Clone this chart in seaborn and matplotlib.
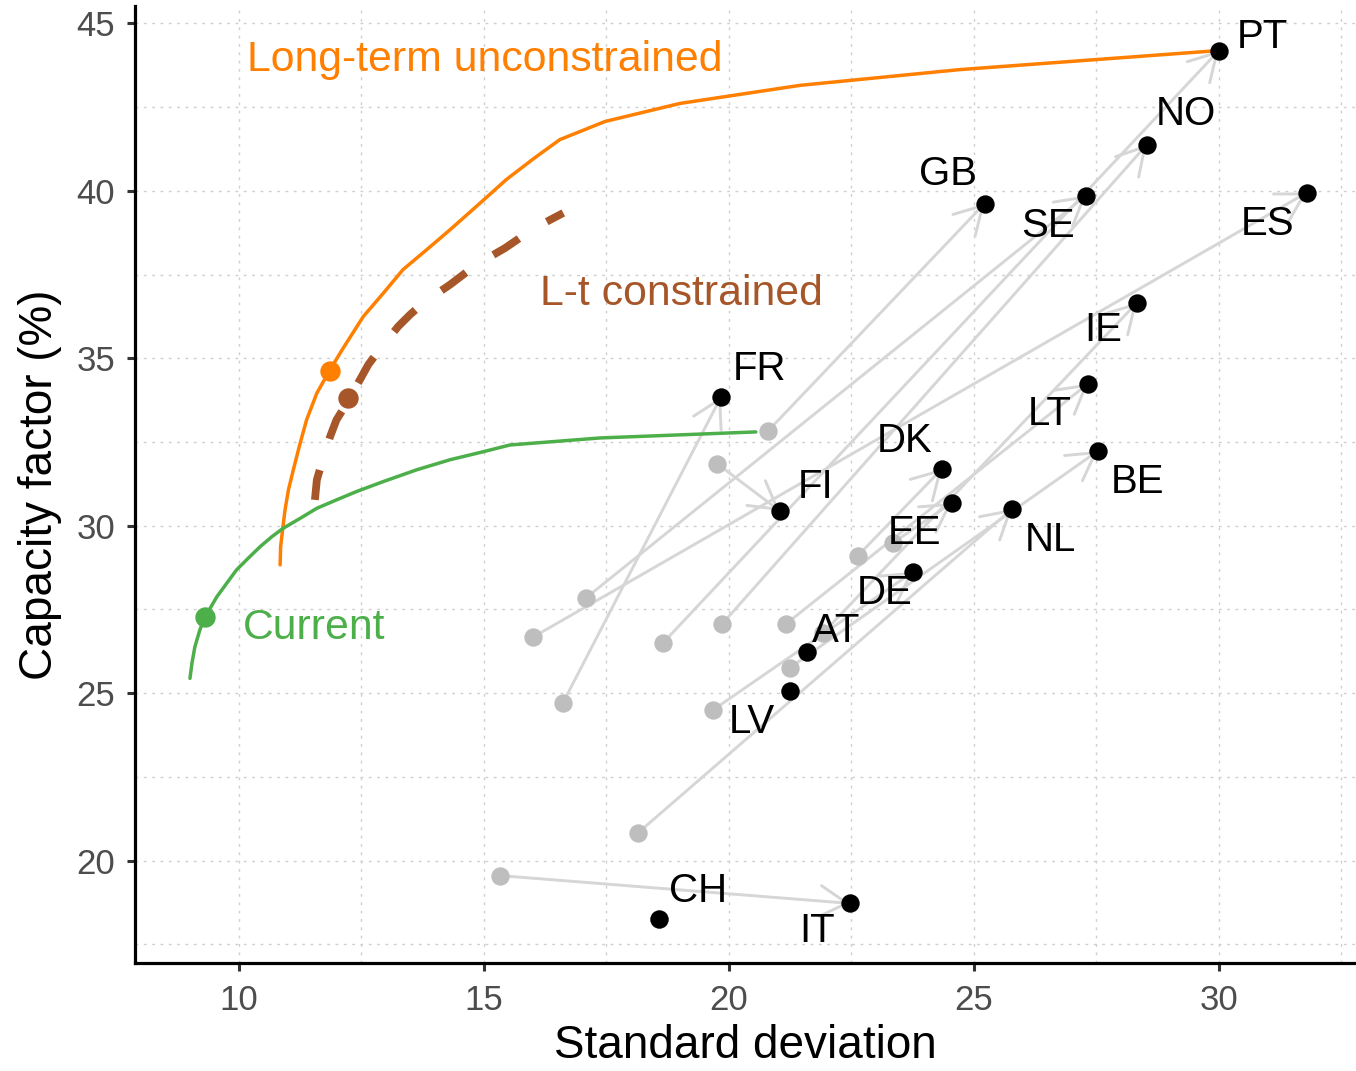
import matplotlib
matplotlib.use("Agg")
import matplotlib.pyplot as plt
from matplotlib.patches import FancyArrowPatch
from matplotlib.ticker import MultipleLocator
import pandas as pd
import seaborn as sns

# ---------------------------------------------------------------- data
countries = ["PT", "NO", "GB", "SE", "ES", "IE", "LT", "BE", "DK",
             "EE", "NL", "FR", "FI", "DE", "AT", "LV", "IT", "CH"]

# long-term optimised portfolio (black points)
sd_longterm = [30.00, 28.53, 25.22, 27.29, 31.80, 28.33, 27.33, 27.53, 24.35,
               24.55, 25.78, 19.84, 21.04, 23.76, 21.59, 21.24, 22.47, 18.57]
cf_longterm = [44.19, 41.38, 39.62, 39.86, 39.95, 36.66, 34.24, 32.23, 31.70,
               30.68, 30.50, 33.85, 30.44, 28.62, 26.23, 25.06, 18.72, 18.24]

# current fleet (grey points)
sd_current = [18.65, 19.86, 20.80, 17.08, 16.00, 21.92, 21.16, 21.24, 22.63,
              23.35, 18.14, 16.61, 19.76, 19.67, 21.59, 21.24, 15.33, 18.57]
cf_current = [26.49, 27.06, 32.83, 27.84, 26.67, 26.79, 27.06, 25.75, 29.10,
              29.49, 20.82, 24.70, 31.85, 24.49, 26.23, 25.06, 19.55, 18.24]

# efficient frontiers
frontier_unc_sd = [10.84, 10.85, 10.89, 10.94, 11.01, 11.11, 11.23, 11.38,
                   11.59, 11.86, 12.13, 12.54, 12.95, 13.35, 13.83, 14.31,
                   14.85, 15.46, 16.04, 16.55, 17.47, 19.00, 21.45, 24.71,
                   30.00]
frontier_unc_cf = [28.83, 29.37, 29.87, 30.47, 31.07, 31.67, 32.36, 33.16,
                   33.96, 34.66, 35.31, 36.25, 36.95, 37.65, 38.24, 38.84,
                   39.54, 40.34, 40.99, 41.53, 42.07, 42.61, 43.15, 43.62,
                   44.19]

frontier_con_sd = [11.55, 11.59, 11.65, 11.86, 11.99, 12.16, 12.47, 12.64,
                   12.84, 13.25, 13.49, 13.76, 14.31, 14.58, 14.85, 15.43,
                   15.70, 15.97, 16.62]
frontier_con_cf = [30.77, 31.37, 31.67, 32.66, 33.16, 33.56, 34.36, 34.81,
                   35.20, 35.95, 36.30, 36.65, 37.20, 37.50, 37.80, 38.29,
                   38.56, 38.84, 39.34]

frontier_cur_sd = [9.00, 9.04, 9.10, 9.20, 9.31, 9.55, 9.75, 9.95, 10.19,
                   10.43, 10.67, 10.90, 11.25, 11.59, 11.99, 12.40, 12.95,
                   13.63, 14.31, 14.99, 15.53, 17.37, 20.55]
frontier_cur_cf = [25.44, 25.89, 26.38, 26.88, 27.28, 27.88, 28.28, 28.68,
                   29.03, 29.37, 29.67, 29.92, 30.22, 30.52, 30.77, 31.02,
                   31.32, 31.67, 31.97, 32.21, 32.41, 32.62, 32.80]

# highlighted portfolios on each frontier
point_unc = (11.86, 34.63)
point_con = (12.22, 33.82)
point_cur = (9.31, 27.27)

# ---------------------------------------------------------------- layout
# label anchor offsets (sd, cf) relative to each long-term point
label_offsets = {
    "PT": (0.88, 0.39), "NO": (0.80, 0.90), "GB": (-0.75, 0.87),
    "SE": (-0.78, -0.90), "ES": (-0.80, -0.93), "IE": (-0.68, -0.81),
    "LT": (-0.78, -0.90), "BE": (0.80, -0.92), "DK": (-0.76, 0.83),
    "EE": (-0.77, -0.90), "NL": (0.79, -0.93), "FR": (0.79, 0.84),
    "FI": (0.72, 0.72), "DE": (-0.58, -0.63), "AT": (0.59, 0.62),
    "LV": (-0.77, -0.93), "IT": (-0.67, -0.81), "CH": (0.80, 0.84),
}

ORANGE = "#FF7F00"
BROWN = "#A65628"
GREEN = "#4DAF4A"

sns.set_theme(style="white")
plt.rcParams["font.family"] = ["Liberation Sans", "DejaVu Sans"]

W, H = 1356, 1071
fig, ax = plt.subplots(figsize=(W / 100, H / 100), dpi=100)
fig.subplots_adjust(left=135 / W, right=1.0, bottom=1 - 963 / H, top=1 - 6 / H)

pts = pd.DataFrame({
    "country": countries,
    "sd_lt": sd_longterm, "cf_lt": cf_longterm,
    "sd_now": sd_current, "cf_now": cf_current,
})

# arrows from current fleet to long-term portfolio
for _, r in pts.iterrows():
    if abs(r.sd_now - r.sd_lt) < 1e-9 and abs(r.cf_now - r.cf_lt) < 1e-9:
        continue
    arr = FancyArrowPatch(
        (r.sd_now, r.cf_now), (r.sd_lt, r.cf_lt),
        arrowstyle="->,head_length=1.93,head_width=1.11",
        mutation_scale=10, shrinkA=0, shrinkB=0,
        color="#D6D6D6", lw=2.1, zorder=2,
    )
    ax.add_patch(arr)

sns.scatterplot(data=pts, x="sd_now", y="cf_now", color="#BEBEBE", s=175,
                linewidth=0, ax=ax, zorder=3)

# frontiers
unc = pd.DataFrame({"sd": frontier_unc_sd, "cf": frontier_unc_cf})
con = pd.DataFrame({"sd": frontier_con_sd, "cf": frontier_con_cf})
cur = pd.DataFrame({"sd": frontier_cur_sd, "cf": frontier_cur_cf})

sns.lineplot(data=unc, x="sd", y="cf", sort=False, estimator=None,
             color=ORANGE, lw=2.5, ax=ax, zorder=4, solid_joinstyle="round")
sns.lineplot(data=cur, x="sd", y="cf", sort=False, estimator=None,
             color=GREEN, lw=2.5, ax=ax, zorder=4, solid_joinstyle="round")
sns.lineplot(data=con, x="sd", y="cf", sort=False, estimator=None,
             color=BROWN, lw=5.6, ax=ax, zorder=4)
ax.lines[-1].set_dashes((3.9, 4.2))
ax.lines[-1].set_dash_capstyle("butt")

for (x, y), c in [(point_unc, ORANGE), (point_con, BROWN), (point_cur, GREEN)]:
    sns.scatterplot(x=[x], y=[y], color=c, s=215, linewidth=0, ax=ax, zorder=5)

sns.scatterplot(data=pts, x="sd_lt", y="cf_lt", color="black", s=175,
                linewidth=0, ax=ax, zorder=6)

for _, r in pts.iterrows():
    dx, dy = label_offsets[r.country]
    ax.text(r.sd_lt + dx, r.cf_lt + dy, r.country, fontsize=29,
            color="black", ha="center", va="center", zorder=7)

ax.text(10.16, 43.90, "Long-term unconstrained", color=ORANGE, fontsize=30.8,
        ha="left", va="center")
ax.text(16.14, 36.93, "L-t constrained", color=BROWN, fontsize=30.8,
        ha="left", va="center")
ax.text(10.08, 26.93, "Current", color=GREEN, fontsize=30.8,
        ha="left", va="center")

# axes styling
ax.set_xlim(7.878, 32.80)
ax.set_ylim(16.94, 45.52)
ax.xaxis.set_major_locator(MultipleLocator(5))
ax.yaxis.set_major_locator(MultipleLocator(5))
ax.xaxis.set_minor_locator(MultipleLocator(2.5))
ax.yaxis.set_minor_locator(MultipleLocator(2.5))
ax.grid(which="both", linestyle=(0, (2, 4)), color="#CFCFCF", lw=1.0)
ax.set_axisbelow(True)

for side in ["top", "right"]:
    ax.spines[side].set_visible(False)
for side in ["left", "bottom"]:
    ax.spines[side].set_color("black")
    ax.spines[side].set_linewidth(2.3)

ax.tick_params(which="major", length=5.8, width=2.2, color="#333333",
               labelsize=25, labelcolor="#4D4D4D", bottom=True, left=True)
ax.tick_params(axis="x", which="major", pad=9.5)
ax.tick_params(axis="y", which="major", pad=8.5)
ax.tick_params(which="minor", length=0)

ax.set_xlabel("Standard deviation", fontsize=33, color="black", labelpad=5)
ax.set_ylabel("Capacity factor (%)", fontsize=33, color="black", labelpad=10)

fig.savefig("out.png", dpi=100)
